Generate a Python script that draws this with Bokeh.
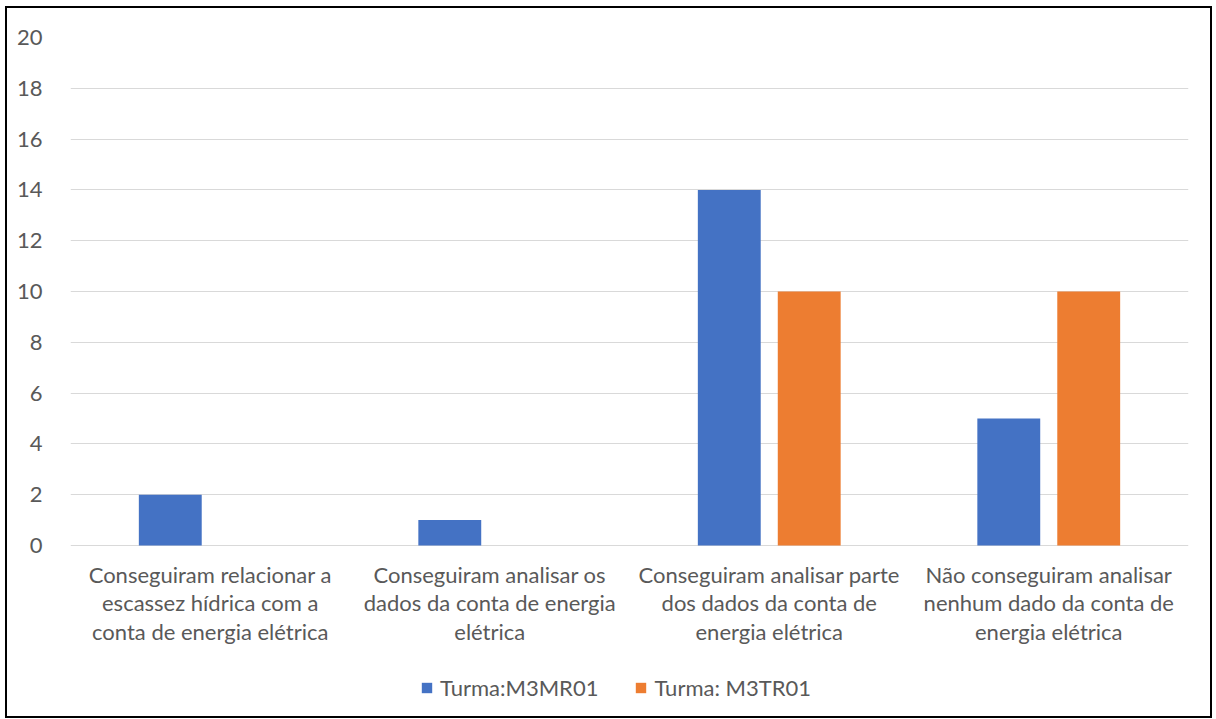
from bokeh.plotting import figure
from bokeh.models import Range1d, FixedTicker, Legend, LegendItem, ColumnDataSource
from bokeh.core.properties import value
from bokeh.embed import file_html
from bokeh.resources import INLINE

categories = [
    "Conseguiram relacionar a\nescassez hídrica com a\nconta de energia elétrica",
    "Conseguiram analisar os\ndados da conta de energia\nelétrica",
    "Conseguiram analisar parte\ndos dados da conta de\nenergia elétrica",
    "Não conseguiram analisar\nnenhum dado da conta de\nenergia elétrica",
]
series_names = ["Turma:M3MR01", "Turma: M3TR01"]
m3mr01 = [2, 1, 14, 5]
m3tr01 = [0, 0, 10, 10]
y_ticks = [0, 2, 4, 6, 8, 10, 12, 14, 16, 18, 20]

FONT = "Lato"
FS = "22px"
TXT = "#595959"

PX_PER_UNIT = 508 / 20.0          # frame pixels per value unit
BELOW_PX = 175                    # room below the zero line for labels & legend

p = figure(width=1207, height=712, x_range=Range1d(0, len(categories)),
           y_range=Range1d(-BELOW_PX / PX_PER_UNIT, 20),
           output_backend="svg", toolbar_location=None,
           min_border_left=63, min_border_right=26, min_border_top=29, min_border_bottom=0)
p.styles = {"margin-left": "5px", "margin-top": "6px", "border": "2px solid #000000"}
p.outline_line_color = None
p.xaxis.visible = False
p.xgrid.grid_line_color = None

xs = [i + 0.5 for i in range(len(categories))]
off = 0.143
w = 0.225
src_a = ColumnDataSource(dict(x=[x - off for x in xs], top=m3mr01))
src_b = ColumnDataSource(dict(x=[x + off for x in xs], top=m3tr01))
ra = p.vbar(x="x", top="top", width=w, source=src_a, fill_color="#4472C4", line_color=None)
rb = p.vbar(x="x", top="top", width=w, source=src_b, fill_color="#ED7D31", line_color=None)

# category labels under the zero line
lab_y = -15 / PX_PER_UNIT
src_l = ColumnDataSource(dict(x=xs, y=[lab_y] * len(xs), t=categories))
p.text(x="x", y="y", text="t", source=src_l, text_font=value(FONT),
       text_font_size=FS, text_color=TXT, text_align="center",
       text_baseline="top", text_line_height=1.06)

p.yaxis.ticker = FixedTicker(ticks=y_ticks)
p.yaxis.axis_line_color = None
p.yaxis.major_tick_line_color = None
p.yaxis.minor_tick_line_color = None
p.yaxis.major_label_text_font = FONT
p.yaxis.major_label_text_font_size = FS
p.yaxis.major_label_text_color = TXT
p.yaxis.major_label_standoff = 22
p.ygrid.ticker = FixedTicker(ticks=y_ticks)
p.ygrid.grid_line_color = "#D9D9D9"
p.ygrid.grid_line_width = 1.2

legend = Legend(items=[LegendItem(label=series_names[0], renderers=[ra]),
                       LegendItem(label=series_names[1], renderers=[rb])],
                orientation="horizontal", location=(350, 19),
                label_text_font=FONT, label_text_font_size=FS, label_text_color=TXT,
                glyph_width=13, glyph_height=13, spacing=36, label_standoff=7,
                border_line_color=None, background_fill_alpha=0, margin=0, padding=4)
p.add_layout(legend, "center")

open("out.html", "w").write(file_html(p, INLINE))
